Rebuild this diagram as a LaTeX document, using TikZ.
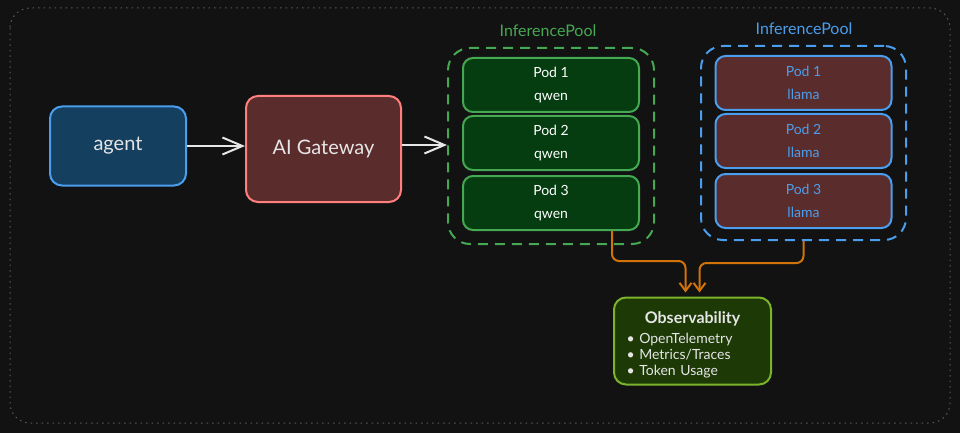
\documentclass[tikz,border=0pt]{standalone}
\usepackage{fontspec}
\setmainfont{Lato}
\usetikzlibrary{positioning, arrows.meta}

\definecolor{bgdark}{HTML}{121212}
\definecolor{framegray}{HTML}{5A5A5A}
\definecolor{txtwhite}{HTML}{E6E6E6}
\definecolor{agentfill}{HTML}{143F5F}
\definecolor{blueline}{HTML}{4A9EED}
\definecolor{redfill}{HTML}{5B2C2C}
\definecolor{redline}{HTML}{FF7F7F}
\definecolor{greenfill}{HTML}{053C10}
\definecolor{greenline}{HTML}{45A852}
\definecolor{obsfill}{HTML}{1C3906}
\definecolor{obsline}{HTML}{7CB32C}
\definecolor{flowred}{HTML}{D2730A}

\begin{document}
\begin{tikzpicture}[x=1pt,y=-1pt,
    box/.style={draw, line width=2pt, rounded corners=12pt, text=txtwhite,
      inner sep=0pt, font=\fontsize{20}{24}\selectfont},
    pod/.style={draw, line width=2pt, rounded corners=10pt, inner sep=0pt,
      minimum width=176pt, minimum height=54pt, align=center,
      font=\fontsize{14}{23}\selectfont},
    pool/.style={draw, line width=2pt, dash pattern=on 10pt off 7pt,
      rounded corners=22pt, inner sep=0pt},
    poollabel/.style={font=\fontsize{16}{18}\selectfont},
    flow/.style={draw=txtwhite, line width=2pt,
      -{Straight Barb[length=20pt,width=17pt,line width=2pt]}},
    obsflow/.style={draw=flowred, line width=2pt, rounded corners=7pt,
      -{Straight Barb[length=8pt,width=12pt,line width=2pt]}}]
  \useasboundingbox (0,0) rectangle (960,433);
  \fill[bgdark] (0,0) rectangle (960,433);
  \draw[framegray, line width=1pt, dash pattern=on 1.5pt off 4pt,
    rounded corners=20pt] (10,8) rectangle (950,423);

  % request path
  \node[box, fill=agentfill, draw=blueline, minimum width=136pt,
    minimum height=79pt] (agent) at (118,146) {agent};
  \node[box, fill=redfill, draw=redline, minimum width=155pt,
    minimum height=106pt] (gw) at (323.5,149) {AI Gateway};

  % qwen pool
  \node[pool, draw=greenline, minimum width=206pt, minimum height=196pt]
    (gpool) at (551,146) {};
  \node[poollabel, text=greenline] (glabel) at (548,31) {InferencePool};
  \node[pod, fill=greenfill, draw=greenline, text=white] (gpod1) at (551,85)
    {Pod 1\\qwen};
  \node[pod, fill=greenfill, draw=greenline, text=white] (gpod2)
    [below=2pt of gpod1] {Pod 2\\qwen};
  \node[pod, fill=greenfill, draw=greenline, text=white] (gpod3)
    [below=4pt of gpod2] {Pod 3\\qwen};

  % llama pool
  \node[pool, draw=blueline, minimum width=205pt, minimum height=194pt]
    (bpool) at (803.5,143) {};
  \node[poollabel, text=blueline] (blabel) at (804,29) {InferencePool};
  \node[pod, fill=redfill, draw=blueline, text=blueline] (bpod1)
    at (803.5,83) {Pod 1\\llama};
  \node[pod, fill=redfill, draw=blueline, text=blueline] (bpod2)
    [below=2pt of bpod1] {Pod 2\\llama};
  \node[pod, fill=redfill, draw=blueline, text=blueline] (bpod3)
    [below=4pt of bpod2] {Pod 3\\llama};

  % observability
  \node[draw=obsline, fill=obsfill, line width=2pt, rounded corners=12pt,
    minimum width=157pt, minimum height=87pt, inner sep=0pt, text=txtwhite,
    text width=132pt, align=left, font=\fontsize{14}{16}\selectfont]
    (obs) at (692.5,341)
    {\makebox[\linewidth][c]{\rule{0pt}{20pt}\fontsize{16}{18}\selectfont\bfseries Observability}\\[4pt]
     \textbullet~OpenTelemetry\\
     \textbullet~Metrics/Traces\\
     \textbullet~Token Usage};

  \draw[flow] (agent.east) -- (agent.east -| gw.west);
  \draw[flow] ([yshift=4pt]gw.east) -- ([yshift=4pt]gw.east -| gpool.west);
  \draw[obsflow] ([xshift=61pt]gpod3.south) -- ++(0,30)
    -| ([xshift=-7pt,yshift=4pt]obs.north);
  \draw[obsflow] (bpool.south) -- ++(0,22)
    -| ([xshift=7pt,yshift=4pt]obs.north);
\end{tikzpicture}
\end{document}
